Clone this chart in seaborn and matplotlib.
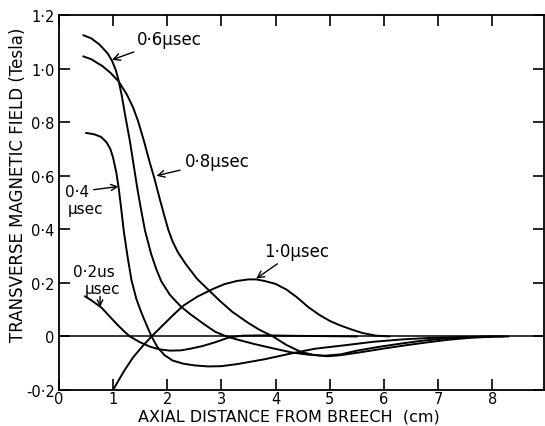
import matplotlib
matplotlib.use("Agg")
import matplotlib.pyplot as plt
import pandas as pd
import seaborn as sns

# values: axial distance (cm) and field (Tesla) per curve
x_02 = [0.48, 0.6, 0.79, 0.95, 1.07, 1.2, 1.31, 1.5, 1.68, 1.85, 2.05, 2.25, 2.42, 2.65, 2.88, 3.15, 3.4, 3.8, 4.5, 5.5]
y_02 = [0.15, 0.135, 0.107, 0.072, 0.046, 0.02, 0.0, -0.022, -0.038, -0.048, -0.053, -0.052, -0.046, -0.036, -0.022, -0.003, 0.003, 0.004, 0.002, 0.0]

x_04 = [0.5, 0.65, 0.78, 0.88, 0.95, 1.0, 1.06, 1.1, 1.14, 1.2, 1.27, 1.34, 1.43, 1.53, 1.62, 1.71, 1.82, 1.95, 2.1, 2.3,
        2.5, 2.75, 3.0, 3.3, 3.8, 4.3, 4.72, 5.27, 5.8, 6.34, 6.8, 7.3, 7.8, 8.2]
y_04 = [0.76, 0.755, 0.745, 0.725, 0.7, 0.668, 0.612, 0.56, 0.495, 0.39, 0.295, 0.21, 0.14, 0.085, 0.042, 0.0, -0.04, -0.07, -0.09, -0.102,
        -0.108, -0.112, -0.111, -0.103, -0.085, -0.063, -0.046, -0.033, -0.02, -0.011, -0.006, -0.003, -0.001, 0.0]

x_06 = [0.45, 0.6, 0.75, 0.9, 0.98, 1.05, 1.1, 1.16, 1.22, 1.31, 1.38, 1.45, 1.52, 1.59, 1.7, 1.8, 1.89, 2.05, 2.25,
        2.42, 2.65, 2.88, 3.09, 3.3, 3.6, 3.9, 4.3, 4.6, 4.9, 5.2, 5.5, 5.9, 6.3, 6.7, 7.1, 7.5, 8.0]
y_06 = [1.125, 1.113, 1.09, 1.057, 1.03, 0.995, 0.958, 0.9, 0.83, 0.73, 0.64, 0.55, 0.47, 0.395, 0.31, 0.25, 0.206, 0.155, 0.112,
        0.084, 0.05, 0.018, 0.0, -0.012, -0.028, -0.042, -0.06, -0.068, -0.072, -0.067, -0.053, -0.039, -0.027, -0.016, -0.008, -0.003, 0.0]

x_08 = [0.45, 0.6, 0.8, 0.95, 1.1, 1.25, 1.37, 1.46, 1.57, 1.67, 1.77, 1.86, 1.94, 2.02, 2.1, 2.2, 2.35, 2.55, 2.78, 2.97,
        3.2, 3.49, 3.7, 3.95, 4.2, 4.47, 4.7, 4.96, 5.2, 5.6, 6.0, 6.4, 6.8, 7.2, 7.6, 8.0, 8.3]
y_08 = [1.046, 1.035, 1.01, 0.985, 0.953, 0.905, 0.855, 0.805, 0.73, 0.655, 0.585, 0.515, 0.455, 0.398, 0.354, 0.313, 0.268, 0.215, 0.17, 0.133,
        0.092, 0.051, 0.025, 0.0, -0.032, -0.058, -0.069, -0.074, -0.07, -0.058, -0.045, -0.033, -0.022, -0.012, -0.005, -0.001, 0.0]

x_10 = [1.0, 1.2, 1.37, 1.55, 1.71, 1.9, 2.1, 2.29, 2.55, 2.84, 3.05, 3.28, 3.5, 3.64, 3.8, 4.0, 4.2, 4.4, 4.6, 4.81,
        5.0, 5.18, 5.4, 5.6, 5.85, 6.1]
y_10 = [-0.2, -0.13, -0.078, -0.035, 0.0, 0.038, 0.078, 0.114, 0.148, 0.177, 0.195, 0.207, 0.213, 0.213, 0.207, 0.196, 0.175, 0.145, 0.11, 0.08,
        0.058, 0.042, 0.026, 0.013, 0.003, 0.0]

x_ticks = [0, 1, 2, 3, 4, 5, 6, 7, 8]
y_ticks = [-0.2, 0.0, 0.2, 0.4, 0.6, 0.8, 1.0, 1.2]
y_tick_labels = ["-0·2", "0", "0·2", "0·4", "0·6", "0·8", "1·0", "1·2"]

curves = pd.concat([
    pd.DataFrame({"x": x_02, "y": y_02, "t": "0.2"}),
    pd.DataFrame({"x": x_04, "y": y_04, "t": "0.4"}),
    pd.DataFrame({"x": x_06, "y": y_06, "t": "0.6"}),
    pd.DataFrame({"x": x_08, "y": y_08, "t": "0.8"}),
    pd.DataFrame({"x": x_10, "y": y_10, "t": "1.0"}),
])

sns.set_style("ticks")
plt.rcParams["font.family"] = ["DejaVu Sans"]
plt.rcParams["text.color"] = "black"
plt.rcParams["axes.labelcolor"] = "black"
plt.rcParams["xtick.color"] = "black"
plt.rcParams["ytick.color"] = "black"

fig = plt.figure(figsize=(5.45, 4.27), dpi=100)
ax = fig.add_axes([0.108, 0.0843, 0.89, 0.878])

for t, grp in curves.groupby("t"):
    sns.lineplot(data=grp, x="x", y="y", ax=ax, color="black", linewidth=1.4,
                 sort=False, estimator=None)

ax.axhline(0, color="black", linewidth=1.1)

ax.set_xlim(0, 8.95)
ax.set_ylim(-0.2, 1.2)
ax.set_xticks(x_ticks)
ax.set_yticks(y_ticks)
ax.set_yticklabels(y_tick_labels)
ax.tick_params(direction="in", length=8, width=1.2, top=True, right=True,
               labelsize=10.5, colors="black")
ax.tick_params(axis="x", pad=1)
ax.tick_params(axis="y", pad=3)
for sp in ax.spines.values():
    sp.set_visible(True)
    sp.set_linewidth(1.3)
    sp.set_color("black")

ax.set_xlabel("AXIAL DISTANCE FROM BREECH  (cm)", fontsize=11.5)
ax.set_ylabel("TRANSVERSE MAGNETIC FIELD (Tesla)", fontsize=12)
ax.xaxis.set_label_coords(0.475, -0.05)
ax.yaxis.set_label_coords(-0.066, 0.55)

arrow = dict(arrowstyle="->", color="black", lw=1.0, shrinkA=1, shrinkB=0)
ax.annotate("0·6μsec", xy=(0.98, 1.033), xytext=(1.44, 1.11), ha="left", va="center",
            fontsize=12, arrowprops=arrow)
ax.annotate("0·8μsec", xy=(1.8, 0.6), xytext=(2.32, 0.654), ha="left", va="center",
            fontsize=12, arrowprops=arrow)
ax.annotate("0·4", xy=(1.1, 0.56), xytext=(0.11, 0.54), ha="left", va="center",
            fontsize=11, arrowprops=arrow)
ax.text(0.17, 0.476, "μsec", ha="left", va="center", fontsize=11)
ax.text(0.27, 0.242, "0·2us", ha="left", va="center", fontsize=11)
ax.text(0.48, 0.178, "μsec", ha="left", va="center", fontsize=11)
ax.annotate("", xy=(0.76, 0.11), xytext=(0.76, 0.155), arrowprops=arrow)
ax.annotate("1·0μsec", xy=(3.64, 0.216), xytext=(3.78, 0.32), ha="left", va="center",
            fontsize=12, arrowprops=arrow)

fig.savefig("out.png", dpi=100)
